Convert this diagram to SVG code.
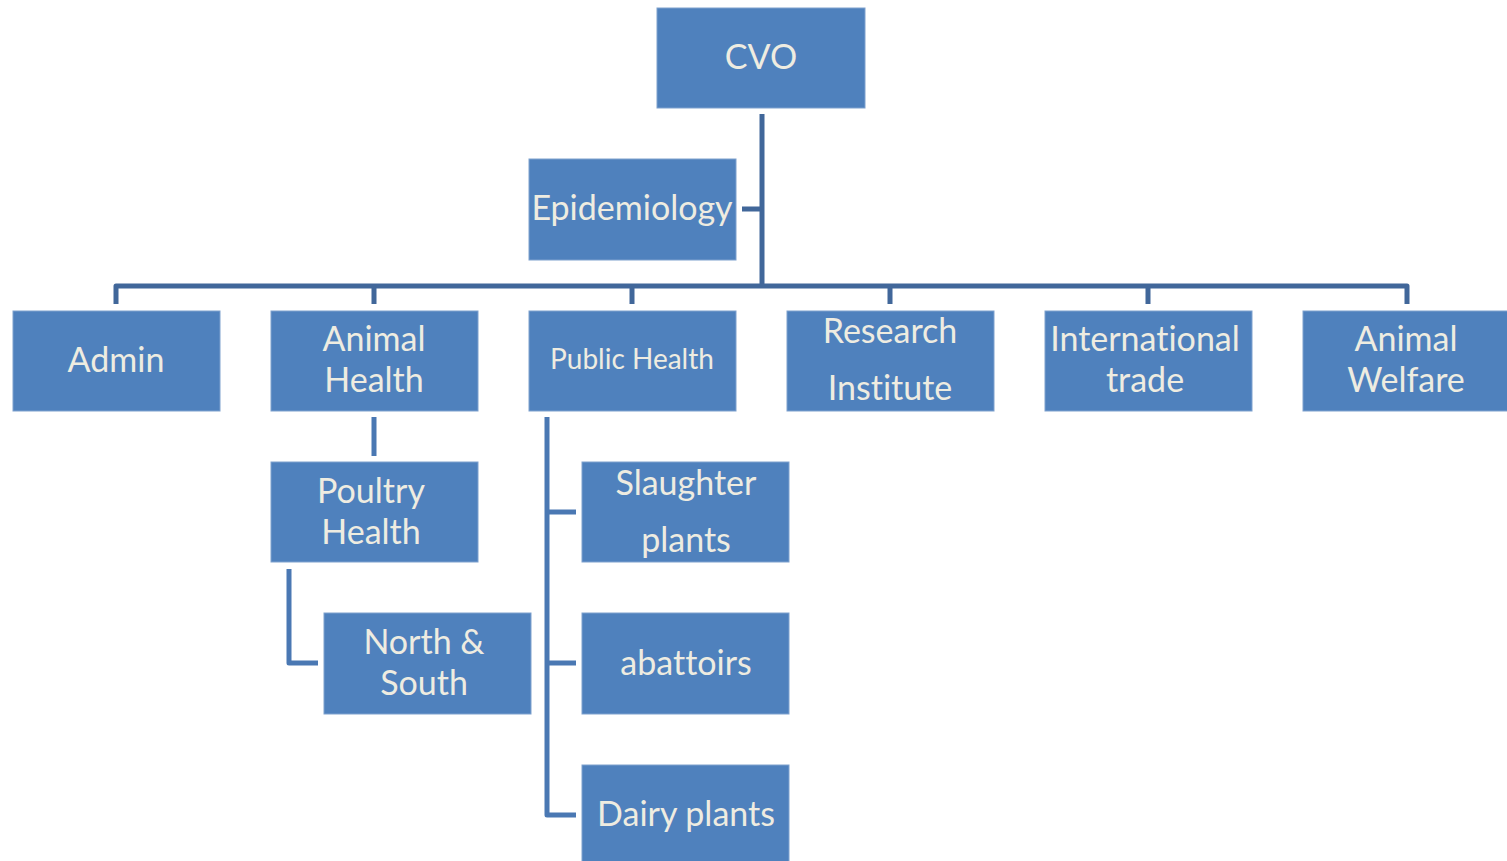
<svg xmlns="http://www.w3.org/2000/svg" width="1507" height="861" viewBox="0 0 1507 861">
<style>
.box{fill:#4F81BD;stroke:#7EA1CE;stroke-width:1}
.t{font-family:Lato,"Open Sans","Liberation Sans",sans-serif;fill:#EEECE1;font-size:34px;text-anchor:middle;font-variant-ligatures:none}
.top{fill:none;stroke:#41679A;stroke-width:5;stroke-linejoin:round}
.low{fill:none;stroke:#4A78B3;stroke-width:5;stroke-linejoin:round}
</style>
<rect width="1507" height="861" fill="#fff"/>
<g id="connectors">
<path class="top" d="M762,114 V286 M742,209 H762 M116,304 V286 H1407 V304 M374,286 V304 M632,286 V304 M890,286 V304 M1148,286 V304"/>
<path class="low" d="M374,417 V456 M289,569 V663 H318 M547,417 V815 H576 M547,512 H576 M547,663 H576"/>
</g>
<g id="cvo"><rect class="box" x="657" y="8" width="208" height="100"/><text class="t" x="761" y="69">CVO</text></g>
<g id="epidemiology"><rect class="box" x="529" y="159" width="207" height="101"/><text class="t" x="632" y="220">Epidemiology</text></g>
<g id="admin"><rect class="box" x="13" y="311" width="207" height="100"/><text class="t" x="116" y="372">Admin</text></g>
<g id="animal-health"><rect class="box" x="271" y="311" width="207" height="100"/><text class="t" x="374" y="351">Animal</text><text class="t" x="374" y="392">Health</text></g>
<g id="public-health"><rect class="box" x="529" y="311" width="207" height="100"/><text class="t" x="632" y="369" style="font-size:28px">Public Health</text></g>
<g id="research-institute"><rect class="box" x="787" y="311" width="207" height="100"/><text class="t" x="890" y="343">Research</text><text class="t" x="890" y="400">Institute</text></g>
<g id="international-trade"><rect class="box" x="1045" y="311" width="207" height="100"/><text class="t" x="1145" y="351">International</text><text class="t" x="1145" y="392">trade</text></g>
<g id="animal-welfare"><rect class="box" x="1303" y="311" width="210" height="100"/><text class="t" x="1406" y="351">Animal</text><text class="t" x="1406" y="392">Welfare</text></g>
<g id="poultry-health"><rect class="box" x="271" y="462" width="207" height="100"/><text class="t" x="371" y="503">Poultry</text><text class="t" x="371" y="544">Health</text></g>
<g id="north-south"><rect class="box" x="324" y="613" width="207" height="101"/><text class="t" x="424" y="654">North &amp;</text><text class="t" x="424" y="695">South</text></g>
<g id="slaughter-plants"><rect class="box" x="582" y="462" width="207" height="100"/><text class="t" x="686" y="495">Slaughter</text><text class="t" x="686" y="552">plants</text></g>
<g id="abattoirs"><rect class="box" x="582" y="613" width="207" height="101"/><text class="t" x="686" y="675">abattoirs</text></g>
<g id="dairy-plants"><rect class="box" x="582" y="765" width="207" height="100"/><text class="t" x="686" y="826">Dairy plants</text></g>
</svg>
